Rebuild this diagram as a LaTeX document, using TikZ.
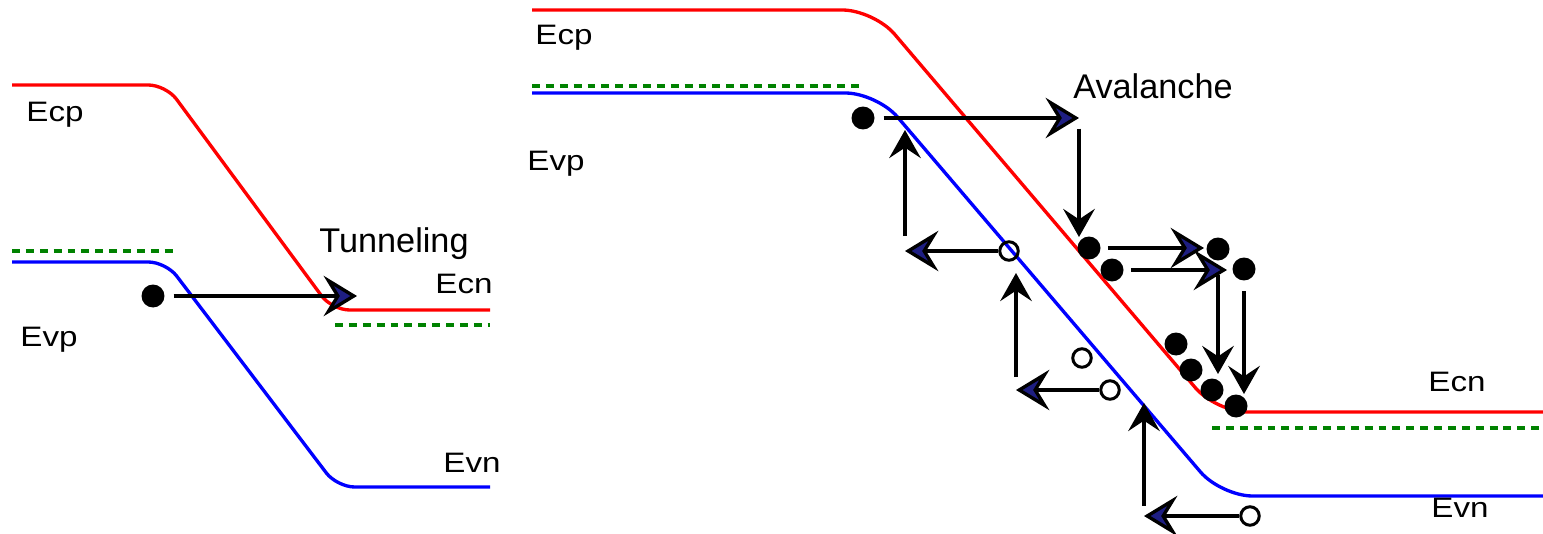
\documentclass[tikz,border=0pt]{standalone}
\usepackage{fontspec}
\setmainfont{Liberation Sans}
\usetikzlibrary{arrows.meta}
\definecolor{headblue}{RGB}{30,30,130}
\definecolor{fermigreen}{RGB}{0,130,0}
\newcommand{\bandname}[1]{\scalebox{1.18}[1]{#1}}

\begin{document}
\begin{tikzpicture}[x=0.02cm, y=-0.02cm,
    cband/.style={red, line width=1.9pt, rounded corners=10pt},
    vband/.style={blue, line width=1.9pt, rounded corners=10pt},
    fermi/.style={fermigreen, line width=1.9pt, dash pattern=on 4.5pt off 3.4pt},
    electron/.style={circle, fill=black, inner sep=0pt, minimum size=0.46cm},
    hole/.style={circle, draw=black, line width=1.7pt, inner sep=0pt, minimum size=0.37cm},
    hop/.style={line width=1.9pt, -{Stealth[length=19pt,width=23pt,inset=7pt,fill=headblue]}},
    drop/.style={line width=1.9pt, -{Stealth[length=16pt,width=18pt,inset=6pt]}},
    band/.style={font=\fontsize{16}{19}\selectfont, inner sep=0pt},
    title/.style={font=\fontsize{19.5}{23}\selectfont, anchor=base, inner sep=0pt}]
  \useasboundingbox (0,0) rectangle (1543,534);

  % tunneling junction
  \draw[cband] (12,85) -- (166,85) -- (332,310) -- (490,310);
  \draw[vband] (12,262) -- (166,262) -- (337,487) -- (490,487);
  \draw[fermi] (12,251) -- (175,251);
  \draw[fermi] (335,325) -- (490,325);
  \node[band] (ecp1) at (55,115) {\bandname{Ecp}};
  \node[band] (evp1) at (49,340) {\bandname{Evp}};
  \node[band] (ecn1) at (464,284) {\bandname{Ecn}};
  \node[band] (evn1) at (472,463) {\bandname{Evn}};
  \node[title] (tun) at (394,252) {Tunneling};
  \node[electron] (e0) at (153,296) {};
  \coordinate (t0) at (357,296);
  \draw[hop, shorten <=5pt] (e0) -- (t0);

  % avalanche junction
  \draw[cband, rounded corners=18pt] (532,10) -- (874,10) -- (1216,412) -- (1543,412);
  \draw[vband, rounded corners=18pt] (532,93) -- (877,93) -- (1221,496) -- (1543,496);
  \draw[fermi] (532,86) -- (860,86);
  \draw[fermi] (1212,428) -- (1543,428);
  \node[band] (ecp2) at (564,38) {\bandname{Ecp}};
  \node[band] (evp2) at (556,164) {\bandname{Evp}};
  \node[band] (ecn2) at (1457,382) {\bandname{Ecn}};
  \node[band] (evn2) at (1460,508) {\bandname{Evn}};
  \node[title] (aval) at (1153,98) {Avalanche};

  % electrons
  \node[electron] (a0) at (863,118) {};
  \node[electron] (a1) at (1089,248) {};
  \node[electron] (a2) at (1112,270) {};
  \node[electron] (a3) at (1218,249) {};
  \node[electron] (a4) at (1244,269) {};
  \node[electron] (a5) at (1176,344) {};
  \node[electron] (a6) at (1191,370) {};
  \node[electron] (a7) at (1212,390) {};
  \node[electron] (a8) at (1236,406) {};

  % holes
  \node[hole] (b1) at (1009,251) {};
  \node[hole] (b2) at (1082,358) {};
  \node[hole] (b3) at (1110,390) {};
  \node[hole] (b4) at (1250,516) {};

  \coordinate (t1) at (1079,118);
  \coordinate (t2) at (1079,237);
  \coordinate (t3) at (1204,248);
  \coordinate (t4) at (1227,270);
  \coordinate (t5) at (1218,374);
  \coordinate (t6) at (1244,394);
  \draw[hop, shorten <=5pt] (a0) -- (t1);
  \draw[drop, shorten <=6pt] (t1) -- (t2);
  \draw[hop, shorten <=4pt] (a1) -- (t3);
  \draw[hop, shorten <=4pt] (a2) -- (t4);
  \draw[drop, shorten <=8pt] (a3) -- (t5);
  \draw[drop, shorten <=6pt] (a4) -- (t6);

  \coordinate (h1) at (905,251);
  \coordinate (h2) at (905,130);
  \coordinate (h3) at (1016,390);
  \coordinate (h4) at (1016,273);
  \coordinate (h5) at (1144,516);
  \coordinate (h6) at (1144,403);
  \draw[hop] (b1) -- (h1);
  \draw[drop, shorten <=8.5pt] (h1) -- (h2);
  \draw[hop] (b3) -- (h3);
  \draw[drop, shorten <=7.4pt] (h3) -- (h4);
  \draw[hop] (b4) -- (h5);
  \draw[drop, shorten <=5.7pt] (h5) -- (h6);
\end{tikzpicture}
\end{document}
